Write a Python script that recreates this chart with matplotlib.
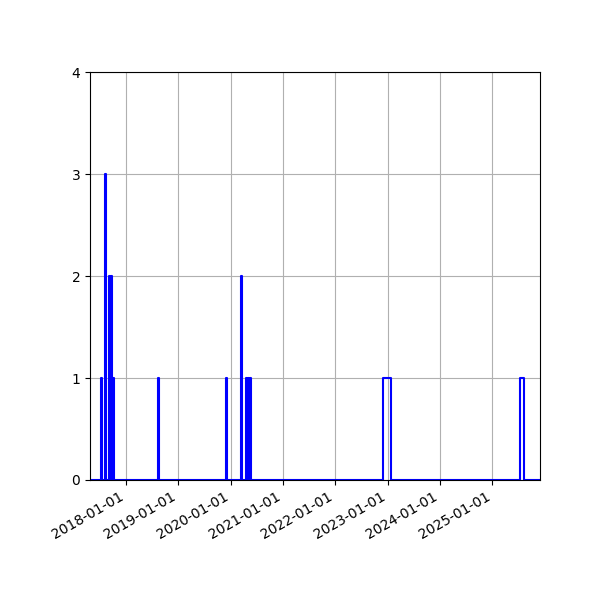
import matplotlib
matplotlib.use('Agg')
import matplotlib.pyplot as plt
import matplotlib.dates as mdates
import pandas as pd

# weeks with a count (week start, count)
event_dates = ['2017-07-09', '2017-08-06',
               '2017-09-03', '2017-09-10', '2017-09-17', '2017-09-24', '2017-10-01',
               '2018-08-12',
               '2019-12-01',
               '2020-03-15',
               '2020-04-19', '2020-04-26', '2020-05-03', '2020-05-10', '2020-05-17',
               '2022-11-27', '2022-12-04', '2022-12-11', '2022-12-18',
               '2022-12-25', '2023-01-01', '2023-01-08', '2023-01-15',
               '2025-07-13', '2025-07-20', '2025-07-27', '2025-08-03']
event_counts = [1, 3,
                2, 0, 2, 0, 1,
                1,
                1,
                2,
                1, 0, 1, 0, 1,
                1, 1, 1, 1,
                1, 1, 1, 1,
                1, 1, 1, 1]

start = '2017-04-23'
end = '2025-11-30'

weeks = pd.date_range(start, end, freq='W-SUN')
counts = pd.Series(event_counts, index=pd.to_datetime(event_dates))
counts = counts.reindex(weeks, fill_value=0)

fig, ax = plt.subplots(figsize=(6, 6), dpi=100)
ax.step(counts.index, counts.values, where='post', color='blue')
ax.set_ylim(0, 4)
ax.set_yticks([0, 1, 2, 3, 4])
ax.set_xlim(pd.Timestamp('2017-04-25'), pd.Timestamp('2025-11-30'))
ax.xaxis.set_major_locator(mdates.YearLocator())
ax.xaxis.set_major_formatter(mdates.DateFormatter('%Y-%m-%d'))
ax.grid(True)
fig.autofmt_xdate()
fig.subplots_adjust(left=0.15, right=0.9, top=0.88, bottom=0.2)
fig.savefig('out.png')
